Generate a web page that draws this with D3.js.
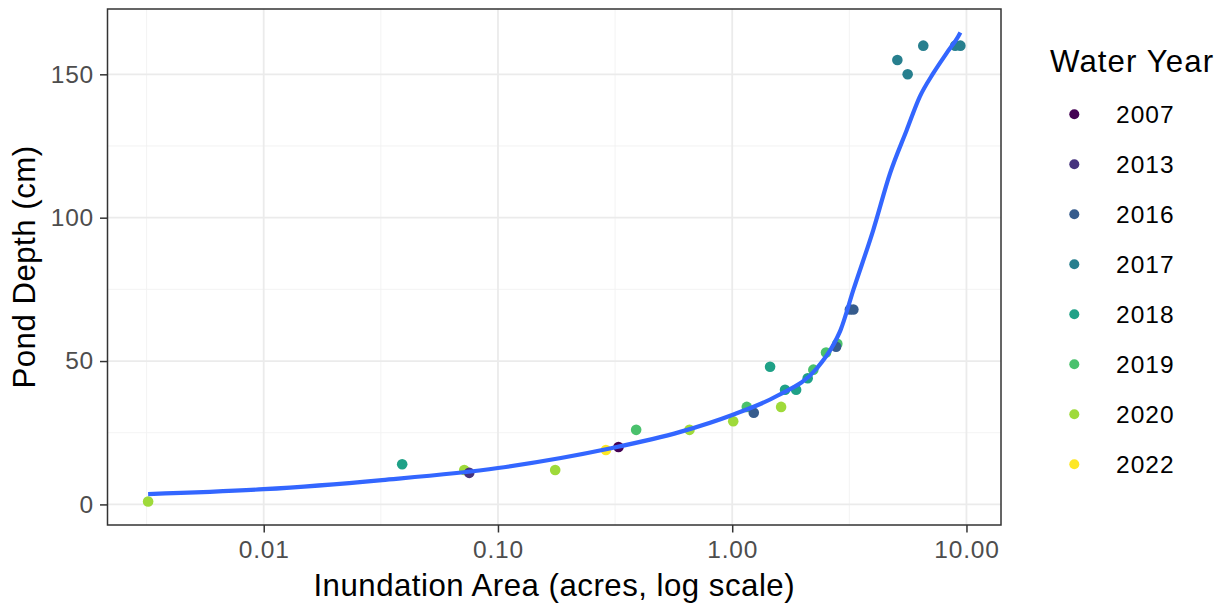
<!DOCTYPE html>
<html>
<head>
<meta charset="utf-8">
<script src="https://cdn.jsdelivr.net/npm/d3@7"></script>
<style>
  body { margin: 0; background: #fff; }
  text { font-family: "Liberation Sans", Arial, sans-serif; }
</style>
</head>
<body>
<div id="svg-container"></div>
<script>
const areaAcres = [0.00321, 0.0718, 0.1755, 0.657, 1.01, 1.617,
    0.039, 1.451, 1.681, 1.874, 2.10,
    0.0754, 0.289, 0.327,
    0.389, 1.154, 2.22, 2.515, 2.81,
    1.236, 2.776, 3.18, 3.29,
    5.07, 5.61, 6.54, 8.95, 9.42]
const depthCm = [1, 12, 12, 26, 29, 34,
    14, 48, 40, 40, 44,
    11, 19, 20,
    26, 34, 47, 53, 56,
    32, 55, 68, 68,
    155, 150, 160, 160, 160]
const waterYear = ['2020', '2020', '2020', '2020', '2020', '2020',
    '2018', '2018', '2018', '2018', '2018',
    '2013', '2022', '2007',
    '2019', '2019', '2019', '2019', '2019',
    '2016', '2016', '2016', '2016',
    '2017', '2017', '2017', '2017', '2017']

// smoothed fit line
const fitArea = [0.00321, 0.01, 0.032, 0.1, 0.3, 0.6, 1.0, 1.55, 2.3, 2.7, 2.9, 3.29, 4.0, 4.72, 5.56, 6.33, 7.22, 8.23, 9.22, 9.42]
const fitDepth = [3.6, 5.3, 8.5, 12.7, 19.5, 25.3, 31.2, 37.8, 47.5, 55.6, 60.8, 74.8, 95.7, 115.5, 130.6, 142.3, 150.4, 157.4, 163.2, 164.6]

const years = ['2007', '2013', '2016', '2017', '2018', '2019', '2020', '2022']
const yearColors = ['#440154', '#46337E', '#365C8D', '#277F8E', '#1FA187', '#4AC16D', '#9FDA3A', '#FDE725']

const xTicks = [0.01, 0.1, 1, 10]
const xMinor = [-2.5, -1.5, -0.5, 0.5] // log10 positions
const yTicks = [0, 50, 100, 150]
const yMinor = [25, 75, 125]

const width = 1223
const height = 605
const margin = { top: 9, right: 222, bottom: 80, left: 107.5 }
const innerWidth = width - margin.left - margin.right
const innerHeight = height - margin.top - margin.bottom

const svg = d3.select('#svg-container')
    .append('svg').attr('width', width).attr('height', height)
svg.append('rect').attr('width', width).attr('height', height).attr('fill', '#fff')

const points = areaAcres.map((a, i) => ({ a: a, d: depthCm[i], yr: waterYear[i] }))
const fit = fitArea.map((a, i) => ({ a: a, d: fitDepth[i] }))

// ggplot style 5% expansion (x in log space)
const allA = areaAcres.concat(fitArea)
const allD = depthCm.concat(fitDepth)
const lo = Math.log10(d3.min(allA)), hi = Math.log10(d3.max(allA))
const xPad = (hi - lo) * 0.05
const dMin = d3.min(allD), dMax = d3.max(allD)
const yPad = (dMax - dMin) * 0.05

const xScale = d3.scaleLog()
    .domain([Math.pow(10, lo - xPad), Math.pow(10, hi + xPad)])
    .range([0, innerWidth])
const yScale = d3.scaleLinear()
    .domain([dMin - yPad, dMax + yPad])
    .range([innerHeight, 0])
const color = d3.scaleOrdinal().domain(years).range(yearColors)

const g = svg.append('g')
    .attr('transform', `translate(${margin.left}, ${margin.top})`)

// grid
g.selectAll('.xminor').data(xMinor).enter().append('line')
    .attr('x1', d => xScale(Math.pow(10, d))).attr('x2', d => xScale(Math.pow(10, d)))
    .attr('y1', 0).attr('y2', innerHeight)
    .attr('stroke', '#f2f2f2').attr('stroke-width', 0.9)
g.selectAll('.yminor').data(yMinor).enter().append('line')
    .attr('x1', 0).attr('x2', innerWidth)
    .attr('y1', d => yScale(d)).attr('y2', d => yScale(d))
    .attr('stroke', '#f2f2f2').attr('stroke-width', 0.9)
g.selectAll('.xmajor').data(xTicks).enter().append('line')
    .attr('x1', d => xScale(d)).attr('x2', d => xScale(d))
    .attr('y1', 0).attr('y2', innerHeight)
    .attr('stroke', '#ebebeb').attr('stroke-width', 1.8)
g.selectAll('.ymajor').data(yTicks).enter().append('line')
    .attr('x1', 0).attr('x2', innerWidth)
    .attr('y1', d => yScale(d)).attr('y2', d => yScale(d))
    .attr('stroke', '#ebebeb').attr('stroke-width', 1.8)

// points
g.selectAll('circle').data(points)
    .enter().append('circle')
    .attr('cx', d => xScale(d.a))
    .attr('cy', d => yScale(d.d))
    .attr('r', 5.3)
    .attr('fill', d => color(d.yr))

// smooth line
const line = d3.line()
    .x(d => xScale(d.a))
    .y(d => yScale(d.d))
    .curve(d3.curveMonotoneX)
g.append('path').datum(fit)
    .attr('d', line)
    .attr('fill', 'none')
    .attr('stroke', '#3366FF')
    .attr('stroke-width', 4.2)

// panel border
g.append('rect').attr('width', innerWidth).attr('height', innerHeight)
    .attr('fill', 'none').attr('stroke', '#333333').attr('stroke-width', 1.5)

// axes
const xAxis = g.append('g')
    .attr('transform', `translate(0, ${innerHeight})`)
    .call(d3.axisBottom(xScale).tickValues(xTicks).tickFormat(d3.format('.2f')).tickSize(7.5).tickPadding(8))
const yAxis = g.append('g')
    .call(d3.axisLeft(yScale).tickValues(yTicks).tickSize(7.5).tickPadding(6))
;[xAxis, yAxis].forEach(ax => {
    ax.select('.domain').remove()
    ax.selectAll('line').attr('stroke', '#333333').attr('stroke-width', 1.5)
    ax.selectAll('text').attr('fill', '#4d4d4d').style('font-size', '24.5px')
        .style('letter-spacing', '0.8px')
        .style('font-family', '"Liberation Sans", Arial, sans-serif')
})

// axis titles
svg.append('text')
    .attr('x', margin.left + innerWidth / 2).attr('y', 596)
    .attr('text-anchor', 'middle').style('font-size', '31.2px')
    .style('letter-spacing', '0.5px')
    .text('Inundation Area (acres, log scale)')
svg.append('text')
    .attr('transform', `translate(35, ${margin.top + innerHeight / 2}) rotate(-90)`)
    .attr('text-anchor', 'middle').style('font-size', '31.2px')
    .style('letter-spacing', '0.5px')
    .text('Pond Depth (cm)')

// legend
const legend = svg.append('g').attr('transform', 'translate(1050, 0)')
legend.append('text').attr('x', 0).attr('y', 72)
    .style('font-size', '31.2px').style('letter-spacing', '1.1px').text('Water Year')
const item = legend.selectAll('.item').data(years)
    .enter().append('g')
    .attr('transform', (d, i) => `translate(0, ${114.3 + i * 50})`)
item.append('circle').attr('cx', 24.3).attr('cy', 0).attr('r', 5)
    .attr('fill', d => color(d))
item.append('text').attr('x', 66).attr('y', 9)
    .style('font-size', '24.5px').style('letter-spacing', '1px').text(d => d)
</script>
</body>
</html>
